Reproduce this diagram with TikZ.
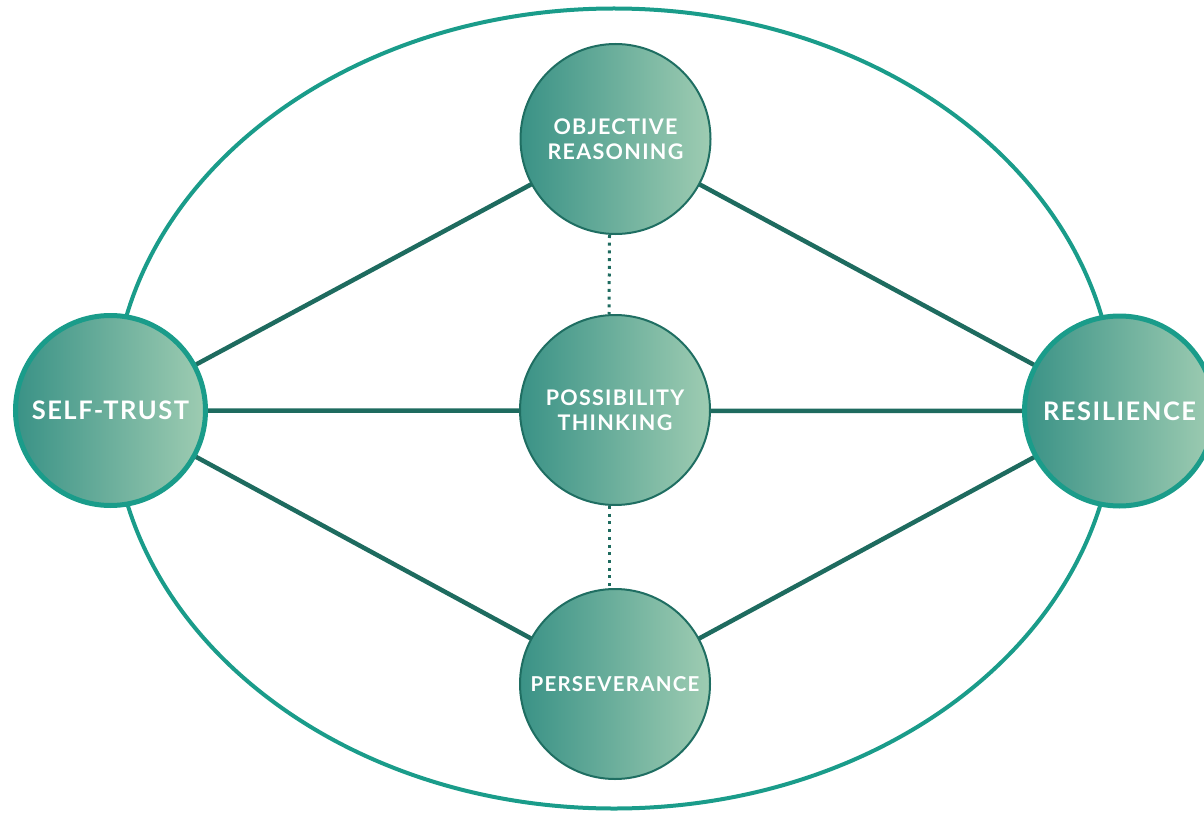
\documentclass[tikz,border=0pt]{standalone}
\usepackage{fontspec}
\setmainfont{Lato}
\newfontfamily\labelfont{Lato}[LetterSpace=6]
\usetikzlibrary{backgrounds}
\definecolor{ring}{HTML}{1A9C8A}
\definecolor{link}{HTML}{1E6B5F}
\definecolor{gleft}{HTML}{3A9286}
\definecolor{gright}{HTML}{9ECCB2}
\definecolor{cborder}{HTML}{1F6E62}
\tikzset{
  bubble/.style={circle, inner sep=0pt, minimum size=190pt, left color=gleft, right color=gright,
    text=white, align=center, font=\labelfont\bfseries\fontsize{21.5}{25}\selectfont},
  inner/.style={bubble, draw=cborder, line width=2pt},
  outer/.style={bubble, draw=ring, line width=5pt, font=\labelfont\bfseries\fontsize{25.5}{29}\selectfont},
  link/.style={draw=link, line width=4.5pt},
  dotlink/.style={draw=link, line width=3pt, dash pattern=on 3pt off 4.7pt},
  ringline/.style={draw=ring, line width=4pt}
}
\begin{document}
\begin{tikzpicture}[x=1pt, y=-1pt]
\useasboundingbox (0,0) rectangle (1204,813);
\draw[ringline] (614,408.5) ellipse [x radius=501pt, y radius=400pt];
\node[inner] (OR) at (615.5,139) {OBJECTIVE\\REASONING};
\node[inner] (PT) at (615,410) {POSSIBILITY\\THINKING};
\node[inner, font=\labelfont\bfseries\fontsize{20.5}{24}\selectfont] (PE) at (615,684) {\raisebox{-3.5pt}{PERSEVERANCE}};
\node[outer] (ST) at (110.5,410.5) {SELF-TRUST};
\node[outer] (RE) at (1119.5,411) {RESILIENCE};
\begin{pgfonlayer}{background}
\draw[link] (ST.center) -- (OR.center);
\draw[link] (ST.center) -- (PE.center);
\draw[link] (ST.center) -- (RE.center);
\draw[link] (RE.center) -- (OR.center);
\draw[link] (RE.center) -- (PE.center);
\draw[dotlink] ([xshift=-6pt]OR.south) -- ([xshift=-6pt]PT.north);
\draw[dotlink] ([xshift=-6pt]PT.south) -- ([xshift=-6pt]PE.north);
\end{pgfonlayer}
\end{tikzpicture}
\end{document}
